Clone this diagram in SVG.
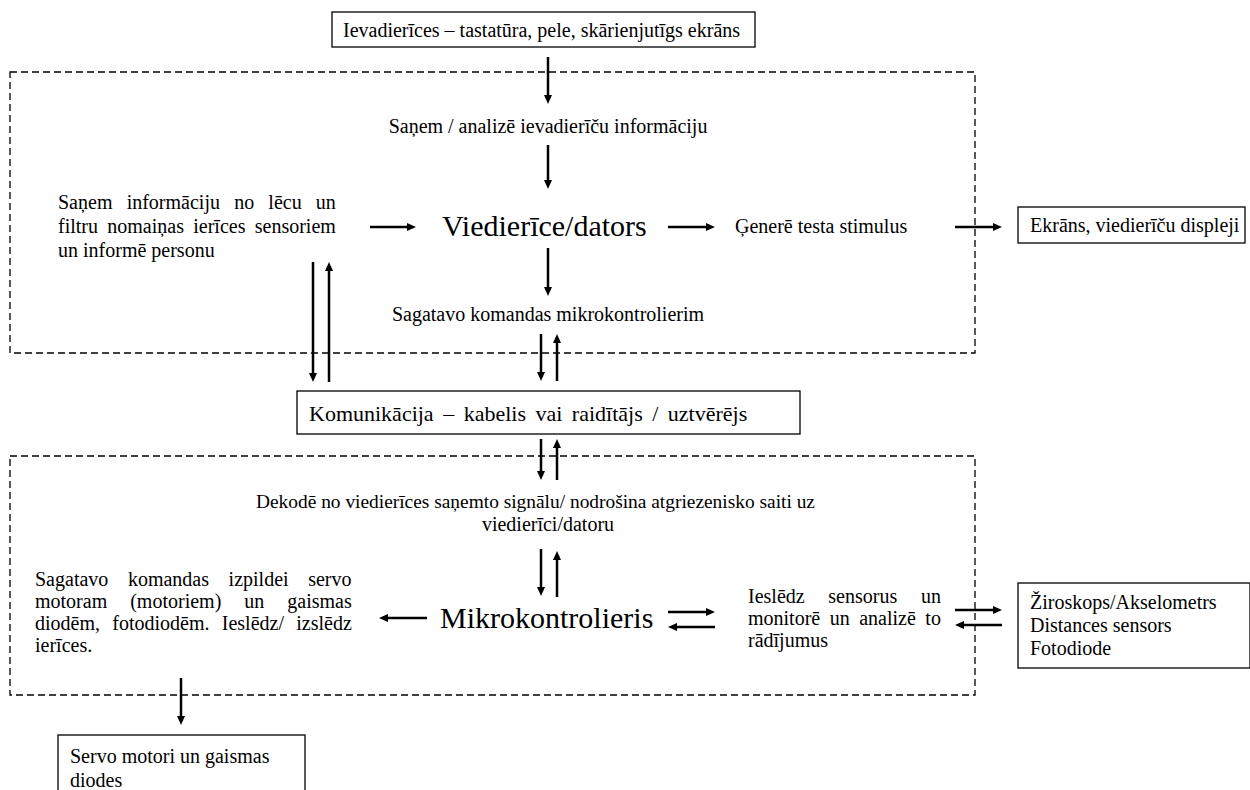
<svg xmlns="http://www.w3.org/2000/svg" width="1250" height="790" viewBox="0 0 1250 790" font-family="'Liberation Serif', 'Times New Roman', serif">
<style>
  text { font-family: "Liberation Serif", "Times New Roman", serif; fill: #000; }
  .t { font-size: 20px; }
  .big { font-size: 30px; }
  .box { fill: #fff; stroke: #000; stroke-width: 1.3; }
  .dash { fill: none; stroke: #000; stroke-width: 1.3; stroke-dasharray: 7 4; }
  .arr { stroke: #000; stroke-width: 2.5; fill: none; marker-end: url(#ah); }
</style>
<defs>
  <marker id="ah" markerUnits="userSpaceOnUse" viewBox="0 0 9 8" markerWidth="9" markerHeight="8" refX="5" refY="4" orient="auto">
    <path d="M0,0 L9,4 L0,8 z" fill="#000"/>
  </marker>
</defs>
<rect width="1250" height="790" fill="#fff"/>

<g id="groups">
  <rect id="upper-region" class="dash" x="10" y="72" width="965" height="281"/>
  <rect id="lower-region" class="dash" x="10" y="456" width="965" height="239"/>
</g>

<g id="connectors">
  <line class="arr" x1="548" y1="57" x2="548" y2="100"/>
  <line class="arr" x1="548" y1="145" x2="548" y2="185"/>
  <line class="arr" x1="370" y1="227" x2="412" y2="227"/>
  <line class="arr" x1="668" y1="227" x2="711" y2="227"/>
  <line class="arr" x1="955" y1="227" x2="998" y2="227"/>
  <line class="arr" x1="548" y1="248" x2="548" y2="292"/>
  <line class="arr" x1="541" y1="334" x2="541" y2="377"/>
  <line class="arr" x1="557" y1="381" x2="557" y2="338"/>
  <line class="arr" x1="313" y1="262" x2="313" y2="378"/>
  <line class="arr" x1="329" y1="382" x2="329" y2="266"/>
  <line class="arr" x1="541" y1="439" x2="541" y2="476"/>
  <line class="arr" x1="557" y1="480" x2="557" y2="443"/>
  <line class="arr" x1="541" y1="549" x2="541" y2="592"/>
  <line class="arr" x1="557" y1="597" x2="557" y2="555"/>
  <line class="arr" x1="427" y1="618" x2="383" y2="618"/>
  <line class="arr" x1="668" y1="612" x2="711" y2="612"/>
  <line class="arr" x1="715" y1="627" x2="672" y2="627"/>
  <line class="arr" x1="955" y1="610" x2="998" y2="610"/>
  <line class="arr" x1="1002" y1="625" x2="959" y2="625"/>
  <line class="arr" x1="181" y1="678" x2="181" y2="721"/>
</g>

<g id="input-devices">
  <rect class="box" x="332" y="12" width="423" height="35"/>
  <text class="t" x="343" y="37">Ievadierīces – tastatūra, pele, skārienjutīgs ekrāns</text>
</g>

<g id="analyse-input">
  <text class="t" x="548" y="133" text-anchor="middle">Saņem / analizē ievadierīču informāciju</text>
</g>

<g id="lens-info">
  <text class="t" x="58" y="209" word-spacing="9.2">Saņem informāciju no lēcu un</text>
  <text class="t" x="58" y="233" word-spacing="4.3">filtru nomaiņas ierīces sensoriem</text>
  <text class="t" x="58" y="257">un informē personu</text>
</g>

<g id="smart-device">
  <text class="big" x="442" y="236">Viedierīce/dators</text>
</g>

<g id="stimulus">
  <text class="t" x="735" y="233">Ģenerē testa stimulus</text>
</g>

<g id="screens">
  <rect class="box" x="1018" y="207" width="227" height="36"/>
  <text class="t" x="1030" y="232">Ekrāns, viedierīču displeji</text>
</g>

<g id="prepare-commands">
  <text class="t" x="548" y="321" text-anchor="middle">Sagatavo komandas mikrokontrolierim</text>
</g>

<g id="communication">
  <rect class="box" x="297" y="391" width="503" height="43"/>
  <text x="309" y="421" font-size="22" word-spacing="4">Komunikācija – kabelis vai raidītājs / uztvērējs</text>
</g>

<g id="decode">
  <text x="256" y="508" font-size="19.4">Dekodē no viedierīces  saņemto signālu/ nodrošina atgriezenisko saiti uz</text>
  <text class="t" x="548" y="531" text-anchor="middle">viedierīci/datoru</text>
</g>

<g id="microcontroller">
  <text class="big" x="440" y="628">Mikrokontrolieris</text>
</g>

<g id="actuator-commands">
  <text class="t" x="35" y="586" word-spacing="14.6">Sagatavo komandas izpildei servo</text>
  <text class="t" x="35" y="608" word-spacing="18">motoram (motoriem) un gaismas</text>
  <text class="t" x="35" y="630" word-spacing="7.3">diodēm, fotodiodēm. Ieslēdz/ izslēdz</text>
  <text class="t" x="35" y="652">ierīces.</text>
</g>

<g id="sensor-control">
  <text class="t" x="748" y="603" word-spacing="18.7">Ieslēdz sensorus un</text>
  <text class="t" x="748" y="625" word-spacing="4.5">monitorē un analizē to</text>
  <text class="t" x="748" y="647">rādījumus</text>
</g>

<g id="sensors">
  <rect class="box" x="1018" y="583" width="232" height="85"/>
  <text class="t" x="1030" y="609">Žiroskops/Akselometrs</text>
  <text class="t" x="1030" y="632">Distances sensors</text>
  <text class="t" x="1030" y="655">Fotodiode</text>
</g>

<g id="servo">
  <rect class="box" x="58" y="735" width="247" height="70"/>
  <text class="t" x="70" y="763">Servo motori un gaismas</text>
  <text class="t" x="70" y="787">diodes</text>
</g>
</svg>
